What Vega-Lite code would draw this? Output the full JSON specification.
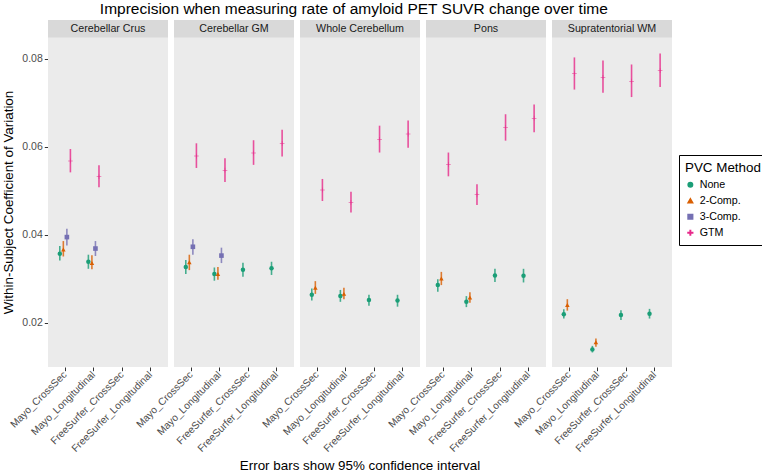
{
  "$schema": "https://vega.github.io/schema/vega-lite/v6.json",
  "padding": {"left": 1, "top": 1, "right": 0, "bottom": 0},
  "background": "white",
  "title": {"text": "Imprecision when measuring rate of amyloid PET SUVR change over time", "fontSize": 15.5, "font": "Liberation Sans", "fontWeight": "normal", "color": "black", "anchor": "start", "dx": 98, "offset": 3},
  "data": {"values": [
    {"region": "Cerebellar Crus", "protocol": "Mayo_CrossSec", "method": "None", "val": 0.0357, "lo": 0.0342, "hi": 0.0375},
    {"region": "Cerebellar Crus", "protocol": "Mayo_CrossSec", "method": "2-Comp.", "val": 0.0367, "lo": 0.0351, "hi": 0.0386},
    {"region": "Cerebellar Crus", "protocol": "Mayo_CrossSec", "method": "3-Comp.", "val": 0.0395, "lo": 0.0376, "hi": 0.0414},
    {"region": "Cerebellar Crus", "protocol": "Mayo_CrossSec", "method": "GTM", "val": 0.0568, "lo": 0.0542, "hi": 0.0595},
    {"region": "Cerebellar Crus", "protocol": "Mayo_Longitudinal", "method": "None", "val": 0.0339, "lo": 0.0323, "hi": 0.0355},
    {"region": "Cerebellar Crus", "protocol": "Mayo_Longitudinal", "method": "2-Comp.", "val": 0.0336, "lo": 0.0322, "hi": 0.0354},
    {"region": "Cerebellar Crus", "protocol": "Mayo_Longitudinal", "method": "3-Comp.", "val": 0.0369, "lo": 0.0352, "hi": 0.0386},
    {"region": "Cerebellar Crus", "protocol": "Mayo_Longitudinal", "method": "GTM", "val": 0.0532, "lo": 0.0508, "hi": 0.0558},
    {"region": "Cerebellar GM", "protocol": "Mayo_CrossSec", "method": "None", "val": 0.0327, "lo": 0.0311, "hi": 0.0343},
    {"region": "Cerebellar GM", "protocol": "Mayo_CrossSec", "method": "2-Comp.", "val": 0.0338, "lo": 0.0320, "hi": 0.0355},
    {"region": "Cerebellar GM", "protocol": "Mayo_CrossSec", "method": "3-Comp.", "val": 0.0373, "lo": 0.0355, "hi": 0.0390},
    {"region": "Cerebellar GM", "protocol": "Mayo_CrossSec", "method": "GTM", "val": 0.0579, "lo": 0.0552, "hi": 0.0608},
    {"region": "Cerebellar GM", "protocol": "Mayo_Longitudinal", "method": "None", "val": 0.0311, "lo": 0.0296, "hi": 0.0326},
    {"region": "Cerebellar GM", "protocol": "Mayo_Longitudinal", "method": "2-Comp.", "val": 0.0311, "lo": 0.0298, "hi": 0.0327},
    {"region": "Cerebellar GM", "protocol": "Mayo_Longitudinal", "method": "3-Comp.", "val": 0.0353, "lo": 0.0336, "hi": 0.0371},
    {"region": "Cerebellar GM", "protocol": "Mayo_Longitudinal", "method": "GTM", "val": 0.0547, "lo": 0.0520, "hi": 0.0574},
    {"region": "Cerebellar GM", "protocol": "FreeSurfer_CrossSec", "method": "None", "val": 0.0321, "lo": 0.0305, "hi": 0.0337},
    {"region": "Cerebellar GM", "protocol": "FreeSurfer_CrossSec", "method": "GTM", "val": 0.0586, "lo": 0.0559, "hi": 0.0615},
    {"region": "Cerebellar GM", "protocol": "FreeSurfer_Longitudinal", "method": "None", "val": 0.0324, "lo": 0.0309, "hi": 0.0339},
    {"region": "Cerebellar GM", "protocol": "FreeSurfer_Longitudinal", "method": "GTM", "val": 0.0608, "lo": 0.0578, "hi": 0.0639},
    {"region": "Whole Cerebellum", "protocol": "Mayo_CrossSec", "method": "None", "val": 0.0264, "lo": 0.0251, "hi": 0.0278},
    {"region": "Whole Cerebellum", "protocol": "Mayo_CrossSec", "method": "2-Comp.", "val": 0.0280, "lo": 0.0266, "hi": 0.0295},
    {"region": "Whole Cerebellum", "protocol": "Mayo_CrossSec", "method": "GTM", "val": 0.0502, "lo": 0.0477, "hi": 0.0527},
    {"region": "Whole Cerebellum", "protocol": "Mayo_Longitudinal", "method": "None", "val": 0.0261, "lo": 0.0248, "hi": 0.0275},
    {"region": "Whole Cerebellum", "protocol": "Mayo_Longitudinal", "method": "2-Comp.", "val": 0.0266, "lo": 0.0254, "hi": 0.0280},
    {"region": "Whole Cerebellum", "protocol": "Mayo_Longitudinal", "method": "GTM", "val": 0.0474, "lo": 0.0451, "hi": 0.0498},
    {"region": "Whole Cerebellum", "protocol": "FreeSurfer_CrossSec", "method": "None", "val": 0.0252, "lo": 0.0239, "hi": 0.0264},
    {"region": "Whole Cerebellum", "protocol": "FreeSurfer_CrossSec", "method": "GTM", "val": 0.0617, "lo": 0.0587, "hi": 0.0648},
    {"region": "Whole Cerebellum", "protocol": "FreeSurfer_Longitudinal", "method": "None", "val": 0.0251, "lo": 0.0237, "hi": 0.0264},
    {"region": "Whole Cerebellum", "protocol": "FreeSurfer_Longitudinal", "method": "GTM", "val": 0.0629, "lo": 0.0598, "hi": 0.0660},
    {"region": "Pons", "protocol": "Mayo_CrossSec", "method": "None", "val": 0.0286, "lo": 0.0271, "hi": 0.0299},
    {"region": "Pons", "protocol": "Mayo_CrossSec", "method": "2-Comp.", "val": 0.0301, "lo": 0.0286, "hi": 0.0316},
    {"region": "Pons", "protocol": "Mayo_CrossSec", "method": "GTM", "val": 0.0560, "lo": 0.0533, "hi": 0.0587},
    {"region": "Pons", "protocol": "Mayo_Longitudinal", "method": "None", "val": 0.0248, "lo": 0.0236, "hi": 0.0261},
    {"region": "Pons", "protocol": "Mayo_Longitudinal", "method": "2-Comp.", "val": 0.0258, "lo": 0.0246, "hi": 0.0270},
    {"region": "Pons", "protocol": "Mayo_Longitudinal", "method": "GTM", "val": 0.0491, "lo": 0.0468, "hi": 0.0515},
    {"region": "Pons", "protocol": "FreeSurfer_CrossSec", "method": "None", "val": 0.0308, "lo": 0.0293, "hi": 0.0323},
    {"region": "Pons", "protocol": "FreeSurfer_CrossSec", "method": "GTM", "val": 0.0644, "lo": 0.0614, "hi": 0.0674},
    {"region": "Pons", "protocol": "FreeSurfer_Longitudinal", "method": "None", "val": 0.0307, "lo": 0.0292, "hi": 0.0323},
    {"region": "Pons", "protocol": "FreeSurfer_Longitudinal", "method": "GTM", "val": 0.0665, "lo": 0.0633, "hi": 0.0696},
    {"region": "Supratentorial WM", "protocol": "Mayo_CrossSec", "method": "None", "val": 0.0220, "lo": 0.0210, "hi": 0.0231},
    {"region": "Supratentorial WM", "protocol": "Mayo_CrossSec", "method": "2-Comp.", "val": 0.0241, "lo": 0.0228, "hi": 0.0254},
    {"region": "Supratentorial WM", "protocol": "Mayo_CrossSec", "method": "GTM", "val": 0.0766, "lo": 0.0730, "hi": 0.0803},
    {"region": "Supratentorial WM", "protocol": "Mayo_Longitudinal", "method": "None", "val": 0.0140, "lo": 0.0133, "hi": 0.0148},
    {"region": "Supratentorial WM", "protocol": "Mayo_Longitudinal", "method": "2-Comp.", "val": 0.0156, "lo": 0.0146, "hi": 0.0165},
    {"region": "Supratentorial WM", "protocol": "Mayo_Longitudinal", "method": "GTM", "val": 0.0758, "lo": 0.0723, "hi": 0.0796},
    {"region": "Supratentorial WM", "protocol": "FreeSurfer_CrossSec", "method": "None", "val": 0.0218, "lo": 0.0207, "hi": 0.0229},
    {"region": "Supratentorial WM", "protocol": "FreeSurfer_CrossSec", "method": "GTM", "val": 0.0749, "lo": 0.0713, "hi": 0.0787},
    {"region": "Supratentorial WM", "protocol": "FreeSurfer_Longitudinal", "method": "None", "val": 0.0221, "lo": 0.0210, "hi": 0.0232},
    {"region": "Supratentorial WM", "protocol": "FreeSurfer_Longitudinal", "method": "GTM", "val": 0.0773, "lo": 0.0736, "hi": 0.0812}
  ]},
  "facet": {
    "column": {
      "field": "region", "type": "nominal",
      "sort": ["Cerebellar Crus", "Cerebellar GM", "Whole Cerebellum", "Pons", "Supratentorial WM"],
      "title": "Error bars show 95% confidence interval",
      "header": {"labels": false, "titleOrient": "bottom", "titleFontSize": 13.4, "titleFont": "Liberation Sans", "titleFontWeight": "normal", "titleColor": "black", "titlePadding": -5}
    }
  },
  "spacing": 6,
  "spec": {
    "width": 120,
    "height": 347,
    "encoding": {
      "y": {"type": "quantitative", "scale": {"domain": [0.01, 0.0888], "nice": false, "zero": false},
        "axis": {
          "title": "Within-Subject Coefficient of Variation",
          "values": [0.02, 0.03, 0.04, 0.05, 0.06, 0.07, 0.08],
          "labelExpr": "round(datum.value*100) % 2 == 0 ? format(datum.value, '.2f') : ''",
          "gridWidth": {"condition": {"test": "round(datum.value*100) % 2 == 0", "value": 1.3}, "value": 0.6},
          "tickOpacity": {"condition": {"test": "round(datum.value*100) % 2 == 0", "value": 1}, "value": 0},
          "titleY": 182
        }
      },
      "x": {"field": "protocol", "type": "nominal",
        "scale": {"type": "band", "paddingInner": 0, "paddingOuter": 0.1, "domain": ["Mayo_CrossSec", "Mayo_Longitudinal", "FreeSurfer_CrossSec", "FreeSurfer_Longitudinal"]},
        "axis": {"title": null, "labelAngle": -45, "labelAlign": "right", "labelBaseline": "middle", "labelFontSize": 10.2, "labelPadding": 2}},
      "xOffset": {"field": "method", "type": "nominal", "scale": {"type": "point", "padding": 0, "domain": ["None", "2-Comp.", "3-Comp.", "GTM"], "range": [8.95, 19.55]}}
    },
    "layer": [
      {
        "transform": [{"aggregate": [{"op": "count", "as": "n"}], "groupby": ["region"]}],
        "mark": {"type": "rect", "fill": "#D9D9D9"},
        "encoding": {"x": null, "xOffset": null, "y": {"datum": 0.0848, "type": "quantitative"}, "y2": {"datum": 0.0888}}
      },
      {
        "transform": [{"aggregate": [{"op": "count", "as": "n"}], "groupby": ["region"]}],
        "mark": {"type": "text", "fontSize": 10.7, "font": "Liberation Sans", "color": "#1A1A1A", "baseline": "middle", "align": "center"},
        "encoding": {"x": null, "xOffset": null, "y": {"datum": 0.0868, "type": "quantitative"}, "text": {"field": "region", "type": "nominal"}}
      },
      {
        "mark": {"type": "rule", "strokeWidth": 1.6, "opacity": 0.8},
        "encoding": {
          "y": {"field": "lo", "type": "quantitative"},
          "y2": {"field": "hi"},
          "color": {"field": "method", "type": "nominal", "title": "PVC Method"}
        }
      },
      {
        "mark": {"type": "point", "filled": true, "opacity": 1},
        "encoding": {
          "y": {"field": "val", "type": "quantitative"},
          "color": {"field": "method", "type": "nominal", "title": "PVC Method",
            "scale": {"domain": ["None", "2-Comp.", "3-Comp.", "GTM"], "range": ["#1B9E77", "#D95F02", "#7570B3", "#E7298A"]}},
          "shape": {"field": "method", "type": "nominal", "title": "PVC Method",
            "scale": {"domain": ["None", "2-Comp.", "3-Comp.", "GTM"], "range": ["circle", "triangle-up", "square", "M-1,-0.1H1V0.1H-1Z M-0.1,-1H0.1V1H-0.1Z"]}},
          "size": {"field": "method", "type": "nominal", "title": "PVC Method",
            "scale": {"domain": ["None", "2-Comp.", "3-Comp.", "GTM"], "range": [20, 22, 24, 50]}}
        }
      }
    ]
  },
  "config": {
    "font": "Liberation Sans",
    "view": {"fill": "#EBEBEB", "stroke": null},
    "axis": {
      "domain": false, "gridColor": "white", "gridWidth": 1.3, "tickColor": "#333333", "tickSize": 3.7, "tickWidth": 1,
      "labelFont": "Liberation Sans", "labelFontSize": 10.5, "labelColor": "#4D4D4D", "labelPadding": 2,
      "titleFont": "Liberation Sans", "titleFontSize": 13.4, "titleFontWeight": "normal", "titleColor": "black", "titlePadding": 6
    },
    "legend": {
      "orient": "none", "legendX": 631, "legendY": 135,
      "strokeColor": "black", "padding": 6, "cornerRadius": 0,
      "titleFont": "Liberation Sans", "titleFontSize": 13.4, "titleFontWeight": "normal", "titleColor": "black",
      "labelFont": "Liberation Sans", "labelFontSize": 10.7, "labelColor": "black", "rowPadding": 4, "symbolOpacity": 1
    }
  }
}
